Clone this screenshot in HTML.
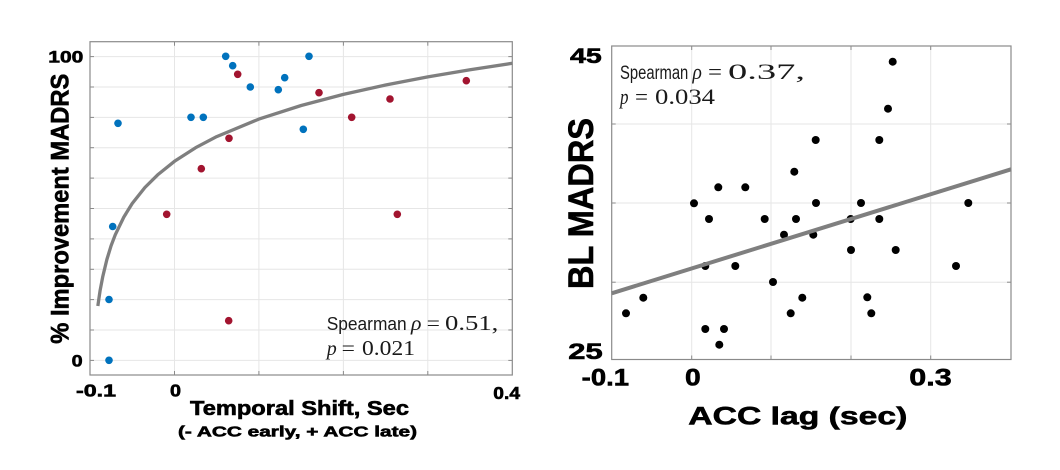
<!DOCTYPE html>
<html>
<head>
<meta charset="utf-8">
<style>
  html, body { margin: 0; padding: 0; background: #ffffff; }
  body { width: 1060px; height: 470px; overflow: hidden; }
  svg { display: block; }
  .b { font-family: "Liberation Sans", Arial, sans-serif; font-weight: bold; fill: #000; stroke: #000; stroke-width: 0.6; }
  .s { font-family: "Liberation Sans", Arial, sans-serif; fill: #1a1a1a; }
  .m { font-family: "Liberation Serif", "DejaVu Serif", serif; fill: #1a1a1a; }
</style>
</head>
<body>
<svg width="1060" height="470" viewBox="0 0 1060 470" xmlns="http://www.w3.org/2000/svg">
  <rect x="0" y="0" width="1060" height="470" fill="#ffffff"/>

  <!-- ================= LEFT PANEL ================= -->
  <g stroke="#e6e6e6" stroke-width="1" fill="none">
    <line x1="90" y1="360.4" x2="512.3" y2="360.4"/>
    <line x1="90" y1="330.0" x2="512.3" y2="330.0"/>
    <line x1="90" y1="299.6" x2="512.3" y2="299.6"/>
    <line x1="90" y1="269.3" x2="512.3" y2="269.3"/>
    <line x1="90" y1="238.9" x2="512.3" y2="238.9"/>
    <line x1="90" y1="208.5" x2="512.3" y2="208.5"/>
    <line x1="90" y1="178.1" x2="512.3" y2="178.1"/>
    <line x1="90" y1="147.7" x2="512.3" y2="147.7"/>
    <line x1="90" y1="117.4" x2="512.3" y2="117.4"/>
    <line x1="90" y1="87.0" x2="512.3" y2="87.0"/>
    <line x1="90" y1="56.6" x2="512.3" y2="56.6"/>
    <line x1="174.5" y1="41.7" x2="174.5" y2="375"/>
    <line x1="258.9" y1="41.7" x2="258.9" y2="375"/>
    <line x1="343.4" y1="41.7" x2="343.4" y2="375"/>
    <line x1="427.8" y1="41.7" x2="427.8" y2="375"/>
  </g>
  <g stroke="#8a8a8a" stroke-width="1">
    <line x1="90" y1="360.4" x2="94" y2="360.4"/><line x1="508.3" y1="360.4" x2="512.3" y2="360.4"/>
    <line x1="90" y1="330.0" x2="94" y2="330.0"/><line x1="508.3" y1="330.0" x2="512.3" y2="330.0"/>
    <line x1="90" y1="299.6" x2="94" y2="299.6"/><line x1="508.3" y1="299.6" x2="512.3" y2="299.6"/>
    <line x1="90" y1="269.3" x2="94" y2="269.3"/><line x1="508.3" y1="269.3" x2="512.3" y2="269.3"/>
    <line x1="90" y1="238.9" x2="94" y2="238.9"/><line x1="508.3" y1="238.9" x2="512.3" y2="238.9"/>
    <line x1="90" y1="208.5" x2="94" y2="208.5"/><line x1="508.3" y1="208.5" x2="512.3" y2="208.5"/>
    <line x1="90" y1="178.1" x2="94" y2="178.1"/><line x1="508.3" y1="178.1" x2="512.3" y2="178.1"/>
    <line x1="90" y1="147.7" x2="94" y2="147.7"/><line x1="508.3" y1="147.7" x2="512.3" y2="147.7"/>
    <line x1="90" y1="117.4" x2="94" y2="117.4"/><line x1="508.3" y1="117.4" x2="512.3" y2="117.4"/>
    <line x1="90" y1="87.0" x2="94" y2="87.0"/><line x1="508.3" y1="87.0" x2="512.3" y2="87.0"/>
    <line x1="90" y1="56.6" x2="94" y2="56.6"/><line x1="508.3" y1="56.6" x2="512.3" y2="56.6"/>
    <line x1="174.5" y1="375" x2="174.5" y2="371"/><line x1="174.5" y1="41.7" x2="174.5" y2="45.7"/>
    <line x1="258.9" y1="375" x2="258.9" y2="371"/><line x1="258.9" y1="41.7" x2="258.9" y2="45.7"/>
    <line x1="343.4" y1="375" x2="343.4" y2="371"/><line x1="343.4" y1="41.7" x2="343.4" y2="45.7"/>
    <line x1="427.8" y1="375" x2="427.8" y2="371"/><line x1="427.8" y1="41.7" x2="427.8" y2="45.7"/>
  </g>
  <rect x="90" y="41.7" width="422.3" height="333.3" fill="none" stroke="#8a8a8a" stroke-width="1.2"/>

  <g fill="#0072BD">
    <circle cx="225.7" cy="56.3" r="3.8"/>
    <circle cx="232.7" cy="65.7" r="3.8"/>
    <circle cx="250.3" cy="87" r="3.8"/>
    <circle cx="278.3" cy="89.7" r="3.8"/>
    <circle cx="118" cy="123.3" r="3.8"/>
    <circle cx="191" cy="117.3" r="3.8"/>
    <circle cx="203.3" cy="117.3" r="3.8"/>
    <circle cx="112.7" cy="226.5" r="3.8"/>
    <circle cx="309" cy="56.3" r="3.8"/>
    <circle cx="284.7" cy="77.7" r="3.8"/>
    <circle cx="303.3" cy="129.3" r="3.8"/>
    <circle cx="109" cy="299.5" r="3.8"/>
    <circle cx="109" cy="360.3" r="3.8"/>
  </g>
  <g fill="#A2142F">
    <circle cx="237.7" cy="74.3" r="3.8"/>
    <circle cx="229" cy="138.3" r="3.8"/>
    <circle cx="201.3" cy="168.7" r="3.8"/>
    <circle cx="166.7" cy="214.3" r="3.8"/>
    <circle cx="319" cy="92.7" r="3.8"/>
    <circle cx="390" cy="99" r="3.8"/>
    <circle cx="351.7" cy="117.3" r="3.8"/>
    <circle cx="466.3" cy="80.7" r="3.8"/>
    <circle cx="397.3" cy="214.3" r="3.8"/>
    <circle cx="228.7" cy="320.7" r="3.8"/>
  </g>
  <polyline fill="none" stroke="#7f7f7f" stroke-width="3.3" stroke-linejoin="round" stroke-linecap="butt"
    points="97.85,306.0 98.9,298.6 100.1,290.5 102.7,276.9 106.9,259.4 111.1,245.7 115.3,234.7 123.8,217.1 132.2,203.5 144.9,187.5 157.6,174.9 174.5,161.3 195.6,147.7 216.7,136.6 258.9,119.1 301.2,105.5 343.4,94.4 385.6,85.0 427.8,76.9 470.1,69.7 512.3,63.3"/>

  <!-- left stats text -->
  <text class="s" x="326.7" y="330" font-size="18.5" textLength="80" lengthAdjust="spacingAndGlyphs">Spearman</text>
  <text class="m" x="411" y="330" font-size="21" font-style="italic" textLength="10.5" lengthAdjust="spacingAndGlyphs">ρ</text>
  <text class="m" x="426.7" y="330" font-size="21" textLength="13.3" lengthAdjust="spacingAndGlyphs">=</text>
  <text class="m" x="445" y="330" font-size="21" textLength="53.3" lengthAdjust="spacingAndGlyphs">0.51,</text>
  <text class="m" x="326.7" y="355" font-size="21" font-style="italic" textLength="10" lengthAdjust="spacingAndGlyphs">p</text>
  <text class="m" x="341.7" y="355" font-size="21" textLength="13.3" lengthAdjust="spacingAndGlyphs">=</text>
  <text class="m" x="362" y="355" font-size="21" textLength="53" lengthAdjust="spacingAndGlyphs">0.021</text>

  <!-- left tick labels -->
  <text class="b" x="48.3" y="62.3" font-size="17" textLength="35" lengthAdjust="spacingAndGlyphs">100</text>
  <text class="b" x="71.7" y="366.7" font-size="17" textLength="11" lengthAdjust="spacingAndGlyphs">0</text>
  <text class="b" x="76" y="396.7" font-size="17.5" textLength="40" lengthAdjust="spacingAndGlyphs">-0.1</text>
  <text class="b" x="170" y="396.7" font-size="17.5" textLength="11" lengthAdjust="spacingAndGlyphs">0</text>
  <text class="b" x="493.3" y="399" font-size="17.5" textLength="26.7" lengthAdjust="spacingAndGlyphs">0.4</text>

  <!-- left axis labels -->
  <text class="b" x="190" y="415" font-size="20" textLength="219" lengthAdjust="spacingAndGlyphs">Temporal Shift, Sec</text>
  <text class="b" x="178" y="436.5" font-size="15" textLength="239" lengthAdjust="spacingAndGlyphs">(- ACC early, + ACC late)</text>
  <text class="b" transform="translate(68.3,208.7) rotate(-90)" x="0" y="0" font-size="25" text-anchor="middle" textLength="270" lengthAdjust="spacingAndGlyphs">% Improvement MADRS</text>

  <!-- ================= RIGHT PANEL ================= -->
  <g stroke="#e6e6e6" stroke-width="1" fill="none">
    <line x1="611.7" y1="124" x2="1011" y2="124"/>
    <line x1="611.7" y1="203" x2="1011" y2="203"/>
    <line x1="611.7" y1="282.2" x2="1011" y2="282.2"/>
    <line x1="691.7" y1="46" x2="691.7" y2="359.5"/>
    <line x1="771" y1="46" x2="771" y2="359.5"/>
    <line x1="851" y1="46" x2="851" y2="359.5"/>
    <line x1="930.7" y1="46" x2="930.7" y2="359.5"/>
  </g>
  <g stroke="#8a8a8a" stroke-width="1">
    <line x1="611.7" y1="124" x2="615.7" y2="124"/><line x1="1007" y1="124" x2="1011" y2="124"/>
    <line x1="611.7" y1="203" x2="615.7" y2="203"/><line x1="1007" y1="203" x2="1011" y2="203"/>
    <line x1="611.7" y1="282.2" x2="615.7" y2="282.2"/><line x1="1007" y1="282.2" x2="1011" y2="282.2"/>
    <line x1="691.7" y1="359.5" x2="691.7" y2="355.5"/><line x1="691.7" y1="46" x2="691.7" y2="50"/>
    <line x1="771" y1="359.5" x2="771" y2="355.5"/><line x1="771" y1="46" x2="771" y2="50"/>
    <line x1="851" y1="359.5" x2="851" y2="355.5"/><line x1="851" y1="46" x2="851" y2="50"/>
    <line x1="930.7" y1="359.5" x2="930.7" y2="355.5"/><line x1="930.7" y1="46" x2="930.7" y2="50"/>
  </g>
  <rect x="611.7" y="46" width="399.3" height="313.5" fill="none" stroke="#8a8a8a" stroke-width="1.2"/>

  <g fill="#000000">
    <circle cx="626" cy="313.3" r="4"/>
    <circle cx="643.3" cy="297.7" r="4"/>
    <circle cx="694" cy="203.3" r="4"/>
    <circle cx="709" cy="219" r="4"/>
    <circle cx="718.3" cy="187.3" r="4"/>
    <circle cx="745.3" cy="187.3" r="4"/>
    <circle cx="705.3" cy="266" r="4"/>
    <circle cx="735.3" cy="266" r="4"/>
    <circle cx="705.3" cy="329" r="4"/>
    <circle cx="724" cy="329" r="4"/>
    <circle cx="719.3" cy="344.7" r="4"/>
    <circle cx="764.7" cy="219" r="4"/>
    <circle cx="773" cy="282" r="4"/>
    <circle cx="784" cy="234.7" r="4"/>
    <circle cx="794.3" cy="171.7" r="4"/>
    <circle cx="796" cy="219" r="4"/>
    <circle cx="790.7" cy="313.3" r="4"/>
    <circle cx="802.3" cy="297.7" r="4"/>
    <circle cx="892.7" cy="61.7" r="4"/>
    <circle cx="888" cy="108.7" r="4"/>
    <circle cx="815.7" cy="140" r="4"/>
    <circle cx="879.3" cy="140" r="4"/>
    <circle cx="816" cy="203" r="4"/>
    <circle cx="861" cy="203" r="4"/>
    <circle cx="850.7" cy="219" r="4"/>
    <circle cx="879.3" cy="219" r="4"/>
    <circle cx="813.3" cy="234.7" r="4"/>
    <circle cx="851" cy="250" r="4"/>
    <circle cx="895.7" cy="250" r="4"/>
    <circle cx="968.3" cy="203" r="4"/>
    <circle cx="956" cy="266" r="4"/>
    <circle cx="867.3" cy="297.3" r="4"/>
    <circle cx="871.3" cy="313.3" r="4"/>
  </g>
  <line x1="611.7" y1="293.3" x2="1011" y2="169.3" stroke="#7f7f7f" stroke-width="4"/>

  <!-- right stats text -->
  <text class="s" x="620" y="79" font-size="19" textLength="68.3" lengthAdjust="spacingAndGlyphs">Spearman</text>
  <text class="m" x="692.5" y="79" font-size="22" font-style="italic" textLength="9.4" lengthAdjust="spacingAndGlyphs">ρ</text>
  <text class="m" x="708" y="79" font-size="22" textLength="14" lengthAdjust="spacingAndGlyphs">=</text>
  <text class="m" x="728" y="79" font-size="22" textLength="77" lengthAdjust="spacingAndGlyphs">0.37,</text>
  <text class="m" x="620" y="104" font-size="22" font-style="italic" textLength="8.5" lengthAdjust="spacingAndGlyphs">p</text>
  <text class="m" x="635" y="104" font-size="22" textLength="13" lengthAdjust="spacingAndGlyphs">=</text>
  <text class="m" x="655" y="104" font-size="22" textLength="60" lengthAdjust="spacingAndGlyphs">0.034</text>

  <!-- right tick labels -->
  <text class="b" x="570" y="63" font-size="21" textLength="31.7" lengthAdjust="spacingAndGlyphs">45</text>
  <text class="b" x="568.3" y="359" font-size="22" textLength="34.4" lengthAdjust="spacingAndGlyphs">25</text>
  <text class="b" x="581.7" y="385.7" font-size="24" textLength="47.3" lengthAdjust="spacingAndGlyphs">-0.1</text>
  <text class="b" x="685" y="385.7" font-size="24" textLength="15.7" lengthAdjust="spacingAndGlyphs">0</text>
  <text class="b" x="909.3" y="385.7" font-size="24" textLength="42.4" lengthAdjust="spacingAndGlyphs">0.3</text>

  <!-- right axis labels -->
  <text class="b" x="688.3" y="424.5" font-size="25" textLength="219" lengthAdjust="spacingAndGlyphs">ACC lag (sec)</text>
  <text class="b" transform="translate(593,203.5) rotate(-90)" x="0" y="0" font-size="35" text-anchor="middle" textLength="171" lengthAdjust="spacingAndGlyphs">BL MADRS</text>
</svg>
</body>
</html>
